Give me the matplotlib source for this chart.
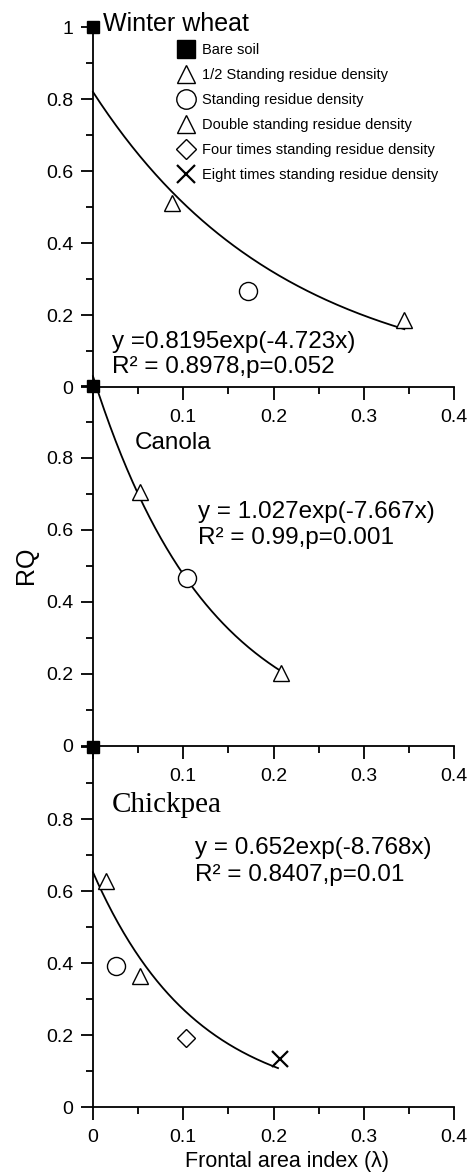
import numpy as np
import matplotlib
matplotlib.use("Agg")
import matplotlib.pyplot as plt
from matplotlib.lines import Line2D
from matplotlib.ticker import MultipleLocator

plt.rcParams['font.family'] = ['Liberation Sans', 'DejaVu Sans']

# measured points (frontal area index, RQ)
bare_x, bare_y = 0.0, 1.0

wheat_half = (0.087, 0.51)
wheat_std = (0.172, 0.268)
wheat_dbl = (0.345, 0.186)

canola_half = (0.052, 0.706)
canola_std = (0.104, 0.468)
canola_dbl = (0.208, 0.204)

chick_half = (0.014, 0.627)
chick_std = (0.026, 0.392)
chick_dbl = (0.052, 0.364)
chick_four = (0.103, 0.193)
chick_eight = (0.207, 0.133)

# exponential fits: a, b, x range end
fit_wheat = (0.8195, -4.723, 0.345)
fit_canola = (1.027, -7.667, 0.208)
fit_chick = (0.652, -8.768, 0.205)

eq_wheat = ["y =0.8195exp(-4.723x)", "R\u00b2 = 0.8978,p=0.052"]
eq_canola = ["y = 1.027exp(-7.667x)", "R\u00b2 = 0.99,p=0.001"]
eq_chick = ["y = 0.652exp(-8.768x)", "R\u00b2 = 0.8407,p=0.01"]

legend_labels = ["Bare soil", "1/2 Standing residue density", "Standing residue density",
                 "Double standing residue density", "Four times standing residue density",
                 "Eight times standing residue density"]

W, H = 470, 1174
fig = plt.figure(figsize=(W / 100, H / 100), dpi=100)
left = 93 / W
width = 361 / W
ph = 360 / H
bottoms = [1 - 387 / H, 1 - 746 / H, 1 - 1107 / H]
axes = [fig.add_axes([left, b, width, ph]) for b in bottoms]

tri = dict(marker='^', ms=12, mfc='white', mec='black', mew=1.0, ls='none', clip_on=False, zorder=5)
circ = dict(marker='o', ms=13, mfc='white', mec='black', mew=1.0, ls='none', clip_on=False, zorder=5)
dia = dict(marker='D', ms=9, mfc='white', mec='black', mew=1.0, ls='none', clip_on=False, zorder=5)
cross = dict(marker='x', ms=12, mec='black', mew=1.6, ls='none', clip_on=False, zorder=5)
sq = dict(marker='s', ms=9, mfc='black', mec='black', ls='none', clip_on=False, zorder=6)

EQ_FS = 17.5


def fit_line(ax, fit):
    a, b, xe = fit
    xs = np.linspace(0, xe, 200)
    ax.plot(xs, a * np.exp(b * xs), color='black', lw=1.3, clip_on=False, zorder=4)


for i, ax in enumerate(axes):
    ax.set_xlim(0, 0.4)
    ax.set_ylim(0, 1)
    ax.patch.set_alpha(0)
    for s in ['top', 'right']:
        ax.spines[s].set_visible(False)
    for s in ['left', 'bottom']:
        ax.spines[s].set_linewidth(1.3)
    ax.xaxis.set_major_locator(MultipleLocator(0.1))
    ax.xaxis.set_minor_locator(MultipleLocator(0.05))
    ax.yaxis.set_major_locator(MultipleLocator(0.2))
    ax.yaxis.set_minor_locator(MultipleLocator(0.1))
    ax.tick_params(which='major', length=9, width=1.3, labelsize=14)
    ax.tick_params(axis='x', which='major', pad=7)
    ax.tick_params(axis='y', which='major', pad=5)
    ax.tick_params(which='minor', length=5, width=1.3)
    ax.set_xticks([0, 0.1, 0.2, 0.3, 0.4])
    if i < 2:
        ax.set_xticklabels(['', '0.1', '0.2', '0.3', '0.4'])
    else:
        ax.set_xticklabels(['0', '0.1', '0.2', '0.3', '0.4'])
    ax.set_yticks([0, 0.2, 0.4, 0.6, 0.8, 1.0])
    if i == 0:
        ax.set_yticklabels(['0', '0.2', '0.4', '0.6', '0.8', '1'])
    else:
        ax.set_yticklabels(['0', '0.2', '0.4', '0.6', '0.8', ''])
    ax.plot([bare_x], [bare_y], **sq)

# Winter wheat
ax = axes[0]
fit_line(ax, fit_wheat)
ax.plot(*wheat_half, **tri)
ax.plot(*wheat_std, **circ)
ax.plot(*wheat_dbl, **tri)
ax.text(0.011, 1.008, "Winter wheat", fontsize=18, va='center', ha='left')
ax.text(0.0207, 0.126, eq_wheat[0], fontsize=EQ_FS, va='center')
ax.text(0.0207, 0.056, eq_wheat[1], fontsize=EQ_FS, va='center')

handles = [
    Line2D([], [], marker='s', ms=13, mfc='black', mec='black', ls='none'),
    Line2D([], [], marker='^', ms=13, mfc='white', mec='black', ls='none'),
    Line2D([], [], marker='o', ms=14, mfc='white', mec='black', ls='none'),
    Line2D([], [], marker='^', ms=13, mfc='white', mec='black', ls='none'),
    Line2D([], [], marker='D', ms=10, mfc='white', mec='black', ls='none'),
    Line2D([], [], marker='x', ms=13, mec='black', mew=1.6, ls='none'),
]
ax.legend(handles, legend_labels, loc='upper left', bbox_to_anchor=((179 - 93) / 361, 1 - (43 - 27) / 360),
          frameon=False, fontsize=10.5, handlelength=1.0, handletextpad=0.6, labelspacing=0.75,
          borderaxespad=0, borderpad=0)

# Canola
ax = axes[1]
fit_line(ax, fit_canola)
ax.plot(*canola_half, **tri)
ax.plot(*canola_std, **circ)
ax.plot(*canola_dbl, **tri)
ax.text(0.0465, 0.8425, "Canola", fontsize=17.5, va='center')
ax.text(0.1164, 0.651, eq_canola[0], fontsize=EQ_FS, va='center')
ax.text(0.1164, 0.577, eq_canola[1], fontsize=EQ_FS, va='center')

# Chickpea
ax = axes[2]
fit_line(ax, fit_chick)
ax.plot(*chick_half, **tri)
ax.plot(*chick_std, **circ)
ax.plot(*chick_dbl, **tri)
ax.plot(*chick_four, **dia)
ax.plot(*chick_eight, **cross)
ax.text(0.0207, 0.839, "Chickpea", fontsize=21, va='center', family=['Liberation Serif', 'DejaVu Serif'])
ax.text(0.113, 0.7186, eq_chick[0], fontsize=EQ_FS, va='center')
ax.text(0.113, 0.644, eq_chick[1], fontsize=EQ_FS, va='center')

fig.text(26 / W, 1 - 565 / H, "RQ", fontsize=18, rotation=90, ha='center', va='center')
fig.text(287 / W, 1 - 1162 / H, "Frontal area index (\u03bb)", fontsize=15.5, ha='center', va='center')

fig.savefig("out.png", dpi=100)
